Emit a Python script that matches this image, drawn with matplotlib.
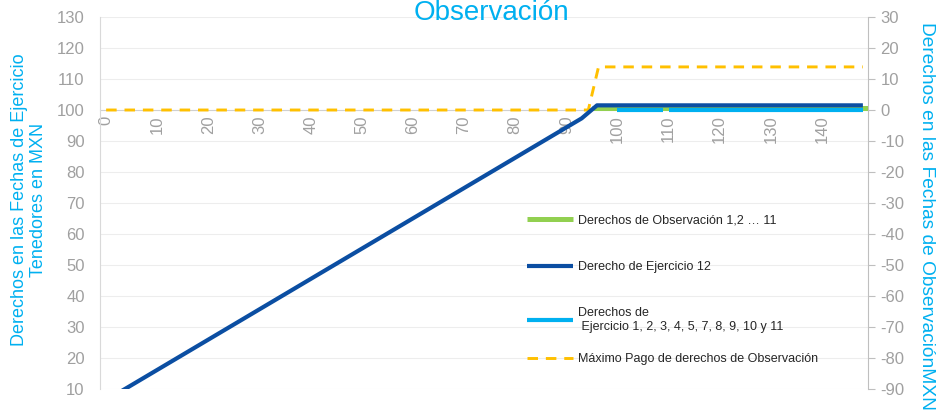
import numpy as np
import matplotlib
matplotlib.use('Agg')
import matplotlib.pyplot as plt

plt.rcParams['font.family'] = ['Liberation Sans', 'DejaVu Sans']
plt.rcParams['axes.unicode_minus'] = False

# series (x = scenario value)
blue_x = [0, 93, 96, 148]
blue_y = [6.4, 97.3, 101.5, 101.5]          # left axis

cyan_x = [100, 109, 109.5, 110, 148]
cyan_y = [100, 100, np.nan, 100, 100]       # left axis

green_x = [95, 149]
green_y = [0.5, 0.5]                        # right axis

max_x = [0, 94.3, 96.3, 148]
max_y = [0, 0, 13.9, 13.9]                  # right axis

x_ticks = list(range(0, 141, 10))
left_ticks = list(range(10, 131, 10))
right_ticks = list(range(-90, 31, 10))

labels = ['Derechos de Observación 1,2 … 11',
          'Derecho de Ejercicio 12',
          'Derechos de\n Ejercicio 1, 2, 3, 4, 5, 7, 8, 9, 10 y 11',
          'Máximo Pago de derechos de Observación']

GREY = '#A0A0A0'
CYAN = '#00B0F0'

fig = plt.figure(figsize=(9.36, 4.15), dpi=100)
ax = fig.add_axes([100 / 936, 1 - 389 / 415, 768 / 936, 372 / 415])
ax2 = ax.twinx()

# right axis series (drawn underneath)
l_green, = ax2.plot(green_x, green_y, color='#92D050', lw=3.6,
                    solid_capstyle='butt', zorder=3)
l_max, = ax2.plot(max_x, max_y, color='#FFC000', lw=2.1,
                  linestyle=(0, (3.6, 2.7)), zorder=3)

# left axis series
l_cyan, = ax.plot(cyan_x, cyan_y, color=CYAN, lw=3.0, solid_capstyle='butt')
l_blue, = ax.plot(blue_x, blue_y, color='#0B4EA2', lw=3.0, solid_capstyle='butt')

ax.set_zorder(ax2.get_zorder() + 1)
ax.patch.set_visible(False)

ax.set_xlim(-1.2, 149)
ax.set_ylim(10, 130)
ax2.set_ylim(-90, 30)

# grid (on the lower axes so it stays under every line)
ax.set_yticks(left_ticks)
ax2.set_yticks(right_ticks)
ax2.yaxis.grid(True, color='#EDEDED', lw=0.8)
ax2.set_axisbelow(True)

# spines
for s in ['top', 'right']:
    ax.spines[s].set_visible(False)
ax.spines['left'].set_color('#D9D9D9')
ax.spines['bottom'].set_position(('data', 100))
ax.spines['bottom'].set_visible(False)
for s in ['top', 'left']:
    ax2.spines[s].set_visible(False)
ax2.spines['right'].set_color('#BFBFBF')
ax2.spines['bottom'].set_position(('data', 0))
ax2.spines['bottom'].set_color('#D0D0D0')
ax2.spines['bottom'].set_zorder(1)

# ticks
ax.set_xticks(x_ticks)
ax.set_xticklabels([str(v) for v in x_ticks], rotation=90, va='top', ha='center')
ax.tick_params(axis='x', length=0, pad=4, labelsize=12, labelcolor=GREY)
ax.tick_params(axis='y', length=0, pad=11, labelsize=12, labelcolor=GREY)
ax2.tick_params(axis='y', length=5, width=0.8, color='#BFBFBF', pad=4,
                labelsize=12, labelcolor=GREY)

# titles / axis labels
fig.text(491 / 936, 1 - 20 / 415, 'Observación', fontsize=20, color=CYAN,
         ha='center', va='baseline')
fig.text(29 / 936, 1 - 200 / 415,
         'Derechos en las Fechas de Ejercicio\nTenedores en MXN',
         rotation=90, ha='center', va='center', multialignment='center',
         fontsize=13, color=CYAN, linespacing=1.15)
fig.text(926 / 936, 1 - 216 / 415, 'Derechos en las Fechas de ObservaciónMXN',
         rotation=270, ha='center', va='center', fontsize=13.8, color=CYAN)

# legend: one entry per row, rows spaced as in the reference
rows = [220, 267, 320, 359]
handles = [l_green, l_blue, l_cyan, l_max]
for h, lab, row in zip(handles, labels, rows):
    leg = fig.legend([h], [lab], loc='center left',
                     bbox_to_anchor=(527 / 936, 1 - row / 415),
                     bbox_transform=fig.transFigure, frameon=False, fontsize=9,
                     handlelength=3.7, handletextpad=0.35,
                     borderpad=0, borderaxespad=0)
    for t in leg.get_texts():
        t.set_color('#262626')

fig.savefig('out.png', dpi=100)
